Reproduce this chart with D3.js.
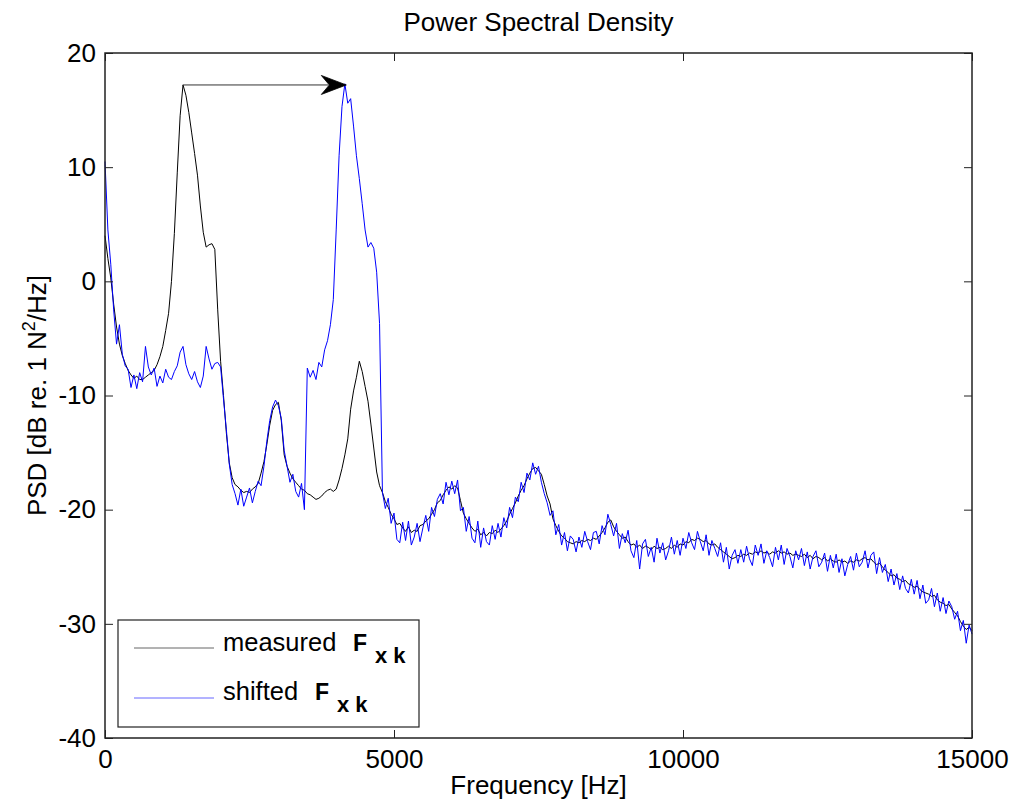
<!DOCTYPE html>
<html><head><meta charset="utf-8">
<script src="https://cdn.jsdelivr.net/npm/d3@7"></script>
<style>
body{margin:0;background:#fff;}
svg{display:block;}
text{font-family:"Liberation Sans",Arial,Helvetica,sans-serif;fill:#000;}
</style>
</head><body>
<svg id="chart" width="1013" height="807"></svg>
<script>
// ---------- data ----------
const chartTitle = "Power Spectral Density";
const xAxisLabel = "Frequency [Hz]";
const xTickValues = [0, 5000, 10000, 15000];
const yTickValues = [20, 10, 0, -10, -20, -30, -40];
const freqStepHz = 50; // spectrum sampled every 50 Hz, 0..15000 Hz

// measured F_xk PSD [dB], one value per 50 Hz
const measured = [
  4.0, 2.0, 0.3, -2.0, -4.0, -5.5, -6.5, -7.2, -7.8, -8.2, -8.5, -8.3, -8.6, -8.6, -8.4, -8.2, -8.0, -7.8, -7.3, -6.6,
  -5.7, -4.3, -2.8, 0.0, 4.2, 9.5, 14.5, 17.2, 16.3, 14.8, 13.0, 11.2, 9.3, 6.6, 4.3, 3.0, 3.2, 3.3, 2.8, -2.5,
  -7.0, -10.0, -13.3, -15.9, -17.2, -17.8, -18.0, -18.3, -18.5, -18.4, -18.5, -18.2, -18.0, -17.7, -16.8, -15.8, -14.3, -12.6, -11.3, -10.8,
  -10.6, -12.2, -15.2, -16.2, -16.8, -17.3, -17.6, -17.9, -18.2, -18.3, -18.6, -18.7, -18.9, -19.1, -19.0, -18.8, -18.5, -18.3, -18.2, -18.4,
  -18.2, -17.4, -16.4, -15.2, -13.8, -11.2, -9.6, -8.4, -7.0, -7.9, -9.2, -10.5, -12.5, -14.6, -16.7, -17.9, -18.5, -19.3, -19.8, -20.4,
  -20.8, -21.3, -21.2, -21.6, -21.9, -21.5, -22.0, -21.8, -21.9, -21.4, -21.3, -21.0, -20.8, -20.4, -20.0, -19.4, -19.2, -18.7, -18.3, -18.0,
  -18.2, -17.9, -18.1, -19.2, -20.3, -20.8, -21.2, -21.6, -21.9, -21.7, -22.2, -22.0, -22.3, -22.0, -22.1, -21.8, -22.0, -21.7, -21.4, -21.0,
  -20.4, -19.9, -19.4, -18.8, -18.3, -17.9, -17.3, -16.8, -16.4, -16.3, -16.6, -16.9, -17.8, -18.8, -19.5, -20.8, -21.4, -21.9, -22.3, -22.5,
  -22.8, -22.9, -23.0, -22.8, -22.9, -22.7, -22.8, -22.6, -22.7, -22.5, -22.6, -22.3, -22.0, -21.6, -21.1, -20.9, -21.5, -21.9, -22.2, -22.5,
  -22.4, -22.8, -23.1, -23.0, -23.3, -23.1, -23.4, -23.2, -23.3, -23.5, -23.2, -23.4, -23.3, -23.5, -23.4, -23.2, -23.4, -23.1, -23.3, -23.0,
  -23.1, -22.8, -22.9, -22.6, -22.7, -22.5, -22.6, -22.8, -22.7, -23.0, -23.1, -23.0, -23.3, -23.5, -23.7, -23.9, -24.1, -24.3, -24.2, -24.0,
  -24.1, -23.9, -24.0, -23.8, -23.9, -23.7, -23.8, -23.6, -23.8, -23.7, -23.9, -23.7, -23.8, -23.6, -23.8, -23.7, -23.9, -23.8, -24.0, -23.9,
  -24.0, -24.1, -23.9, -24.2, -24.0, -24.3, -24.1, -24.2, -24.4, -24.2, -24.5, -24.3, -24.5, -24.6, -24.4, -24.6, -24.5, -24.7, -24.5, -24.6,
  -24.4, -24.5, -24.3, -24.2, -24.4, -24.3, -24.6, -24.8, -24.7, -25.0, -25.3, -25.5, -25.8, -25.7, -26.0, -26.1, -26.3, -26.2, -26.5, -26.6,
  -26.8, -26.7, -27.0, -27.2, -27.3, -27.4, -27.6, -27.5, -27.9, -28.1, -28.2, -28.4, -28.3, -28.7, -29.0, -29.3, -29.8, -30.2, -30.5, -30.3,
  -30.6
];

// shifted F_xk PSD [dB], one value per 50 Hz
const shifted = [
  10.5, 4.5, 1.5, -2.5, -5.5, -3.8, -6.4, -7.4, -7.7, -9.3, -8.2, -9.4, -8.0, -8.8, -5.7, -7.5, -8.2, -7.6, -9.2, -8.3,
  -8.9, -7.7, -8.4, -8.6, -7.9, -7.4, -6.2, -5.7, -7.3, -8.1, -8.6, -7.9, -8.8, -9.3, -8.3, -5.7, -6.8, -7.7, -7.2, -7.1,
  -7.5, -10.3, -13.0, -16.0, -17.8, -18.6, -19.6, -18.2, -19.7, -18.9, -18.1, -19.4, -18.4, -17.5, -17.9, -16.2, -14.0, -12.2, -11.0, -10.4,
  -10.9, -12.0, -14.8, -16.2, -17.6, -16.9, -18.4, -18.9, -17.7, -20.0, -7.6, -8.4, -7.8, -8.6, -7.1, -7.5, -6.0, -5.2, -3.8, -1.6,
  4.5, 11.0, 15.3, 17.3, 15.6, 16.0, 13.6, 11.0, 9.0, 6.8, 4.5, 3.0, 3.4, 2.9, 0.8, -3.7, -18.5, -19.9, -19.0, -21.2,
  -20.3, -22.6, -22.9, -21.1, -22.7, -21.0, -23.1, -22.4, -21.2, -22.8, -21.6, -20.5, -21.9, -19.8, -20.6, -19.1, -18.6, -19.5, -17.6, -18.7,
  -17.5, -18.6, -17.4, -20.1, -19.8, -21.9, -20.6, -22.5, -22.9, -21.0, -23.3, -21.6, -22.8, -23.1, -21.4, -22.6, -21.2, -22.4, -20.7, -21.6,
  -19.8, -20.7, -18.9, -19.3, -17.6, -18.5, -16.8, -17.4, -15.9, -16.9, -16.2, -17.6, -18.6, -19.4, -20.5, -20.1, -22.2, -21.3, -23.1, -22.0,
  -23.6, -22.3, -22.6, -23.7, -22.4, -23.3, -21.9, -22.8, -23.5, -22.0, -21.9, -23.0, -21.4, -22.2, -20.4, -21.3, -22.3, -21.2, -23.4, -22.1,
  -22.9, -21.8, -23.6, -24.2, -22.7, -25.2, -23.0, -22.6, -24.1, -23.3, -24.6, -22.5, -23.8, -22.9, -24.4, -23.6, -22.4, -23.9, -22.7, -24.0,
  -22.5, -23.4, -22.0, -22.9, -23.5, -21.9, -22.8, -23.6, -22.2, -24.0, -22.7, -23.4, -24.1, -22.9, -24.6, -23.3, -25.2, -24.0, -23.5, -24.7,
  -23.5, -24.6, -23.2, -24.3, -24.9, -23.1, -24.0, -23.0, -24.7, -23.6, -24.2, -25.0, -23.3, -24.4, -23.1, -24.8, -23.4, -24.1, -25.1, -23.6,
  -24.4, -23.4, -24.9, -23.7, -25.2, -24.1, -23.6, -25.0, -24.6, -23.8, -25.4, -24.0, -25.1, -23.9, -25.5, -24.3, -25.8, -24.8, -24.1, -25.3,
  -23.8, -25.0, -24.6, -23.6, -25.1, -24.0, -23.7, -25.6, -24.2, -25.5, -24.8, -26.3, -25.2, -26.6, -25.6, -27.0, -25.8, -26.9, -27.3, -26.1,
  -27.4, -26.2, -27.8, -26.6, -28.2, -27.9, -26.9, -28.5, -27.3, -28.9, -27.7, -29.1, -28.0, -28.5, -29.6, -28.9, -30.6, -29.7, -31.7, -30.1,
  -30.9
];

// annotation arrow (peak shift), [Hz, dB]
const arrowFrom = [1345, 17.2];
const arrowTo = [4175, 17.2];

const seriesNames = ["measured", "shifted"];
const seriesColors = ["#000000", "#0000ff"];

// ---------- layout ----------
const W = 1013, H = 807;
const plot = {left: 105, right: 972, top: 53, bottom: 738};
const svg = d3.select("#chart");

const x = d3.scaleLinear().domain([0, 15000]).range([plot.left, plot.right]);
const y = d3.scaleLinear().domain([-40, 20]).range([plot.bottom, plot.top]);

svg.append("rect").attr("width", W).attr("height", H).attr("fill", "#fff");

// data lines
const line = d3.line()
  .x((d, i) => x(i * freqStepHz))
  .y(d => y(d));

[measured, shifted].forEach((s, k) => {
  svg.append("path")
    .datum(s)
    .attr("d", line)
    .attr("fill", "none")
    .attr("stroke", seriesColors[k])
    .attr("stroke-width", 1)
    .attr("stroke-linejoin", "round");
});

// axes frame with inward ticks
const tickLen = 8;
const fmt = d => String(d);
const axG = svg.append("g");
const xBottom = d3.axisBottom(x).tickValues(xTickValues).tickSizeInner(-tickLen).tickSizeOuter(0).tickPadding(tickLen + 4).tickFormat(fmt);
const xTop = d3.axisTop(x).tickValues(xTickValues).tickSizeInner(-tickLen).tickSizeOuter(0).tickFormat("");
const yLeft = d3.axisLeft(y).tickValues(yTickValues).tickSizeInner(-tickLen).tickSizeOuter(0).tickPadding(tickLen + 1).tickFormat(fmt);
const yRight = d3.axisRight(y).tickValues(yTickValues).tickSizeInner(-tickLen).tickSizeOuter(0).tickFormat("");

axG.append("g").attr("transform", `translate(0,${plot.bottom})`).call(xBottom);
axG.append("g").attr("transform", `translate(0,${plot.top})`).call(xTop);
axG.append("g").attr("transform", `translate(${plot.left},0)`).call(yLeft);
axG.append("g").attr("transform", `translate(${plot.right},0)`).call(yRight);

axG.selectAll(".domain").remove();
axG.selectAll(".tick line").attr("stroke", "#222").attr("stroke-width", 1);
axG.selectAll(".tick text")
  .style("font-family", '"Liberation Sans", Arial, sans-serif')
  .style("font-size", "26px").attr("fill", "#000");

svg.append("rect")
  .attr("x", plot.left).attr("y", plot.top)
  .attr("width", plot.right - plot.left).attr("height", plot.bottom - plot.top)
  .attr("fill", "none").attr("stroke", "#222").attr("stroke-width", 1.5);

// arrow annotation
const ax0 = x(arrowFrom[0]), ay0 = y(arrowFrom[1]);
const ax1 = x(arrowTo[0]), ay1 = y(arrowTo[1]);
svg.append("line")
  .attr("x1", ax0).attr("y1", ay0).attr("x2", ax1 - 18).attr("y2", ay1)
  .attr("stroke", "#333").attr("stroke-width", 1);
svg.append("path")
  .attr("d", `M${ax1},${ay1} L${ax1 - 25},${ay1 - 9.5} L${ax1 - 17},${ay1} L${ax1 - 25},${ay1 + 9.5} Z`)
  .attr("fill", "#000").attr("stroke", "#000").attr("stroke-width", 0.8);

// title & labels
const cx = (plot.left + plot.right) / 2;
svg.append("text").attr("x", cx).attr("y", 31)
  .attr("text-anchor", "middle").style("font-size", "26px").text(chartTitle);
svg.append("text").attr("x", cx).attr("y", 794)
  .attr("text-anchor", "middle").style("font-size", "26px").text(xAxisLabel);

const yl = svg.append("text")
  .attr("transform", `translate(46,${(plot.top + plot.bottom) / 2}) rotate(-90)`)
  .attr("text-anchor", "middle").style("font-size", "26px");
yl.append("tspan").text("PSD [dB re. 1 N");
yl.append("tspan").attr("dy", -11).style("font-size", "18px").text("2");
yl.append("tspan").attr("dy", 11).text("/Hz]");

// legend
const lg = svg.append("g");
lg.append("rect").attr("x", 118).attr("y", 620).attr("width", 301).attr("height", 107)
  .attr("fill", "#fff").attr("stroke", "#222").attr("stroke-width", 1.2);
const rows = [
  {name: seriesNames[0], color: seriesColors[0], lineY: 648, base: 651, fx: 353},
  {name: seriesNames[1], color: seriesColors[1], lineY: 698, base: 700, fx: 315}
];
rows.forEach(r => {
  lg.append("line").attr("x1", 134).attr("x2", 214).attr("y1", r.lineY).attr("y2", r.lineY)
    .attr("stroke", r.color).attr("stroke-width", 1).attr("stroke-opacity", 0.6);
  lg.append("text").attr("x", 223).attr("y", r.base).style("font-size", "25.5px").text(r.name);
  lg.append("text").attr("x", r.fx).attr("y", r.base).style("font-size", "23px").style("font-weight", "bold").text("F");
  lg.append("text").attr("x", r.fx + 22).attr("y", r.base + 12).style("font-size", "22px").style("font-weight", "bold").text("x k");
});
</script>
</body></html>
